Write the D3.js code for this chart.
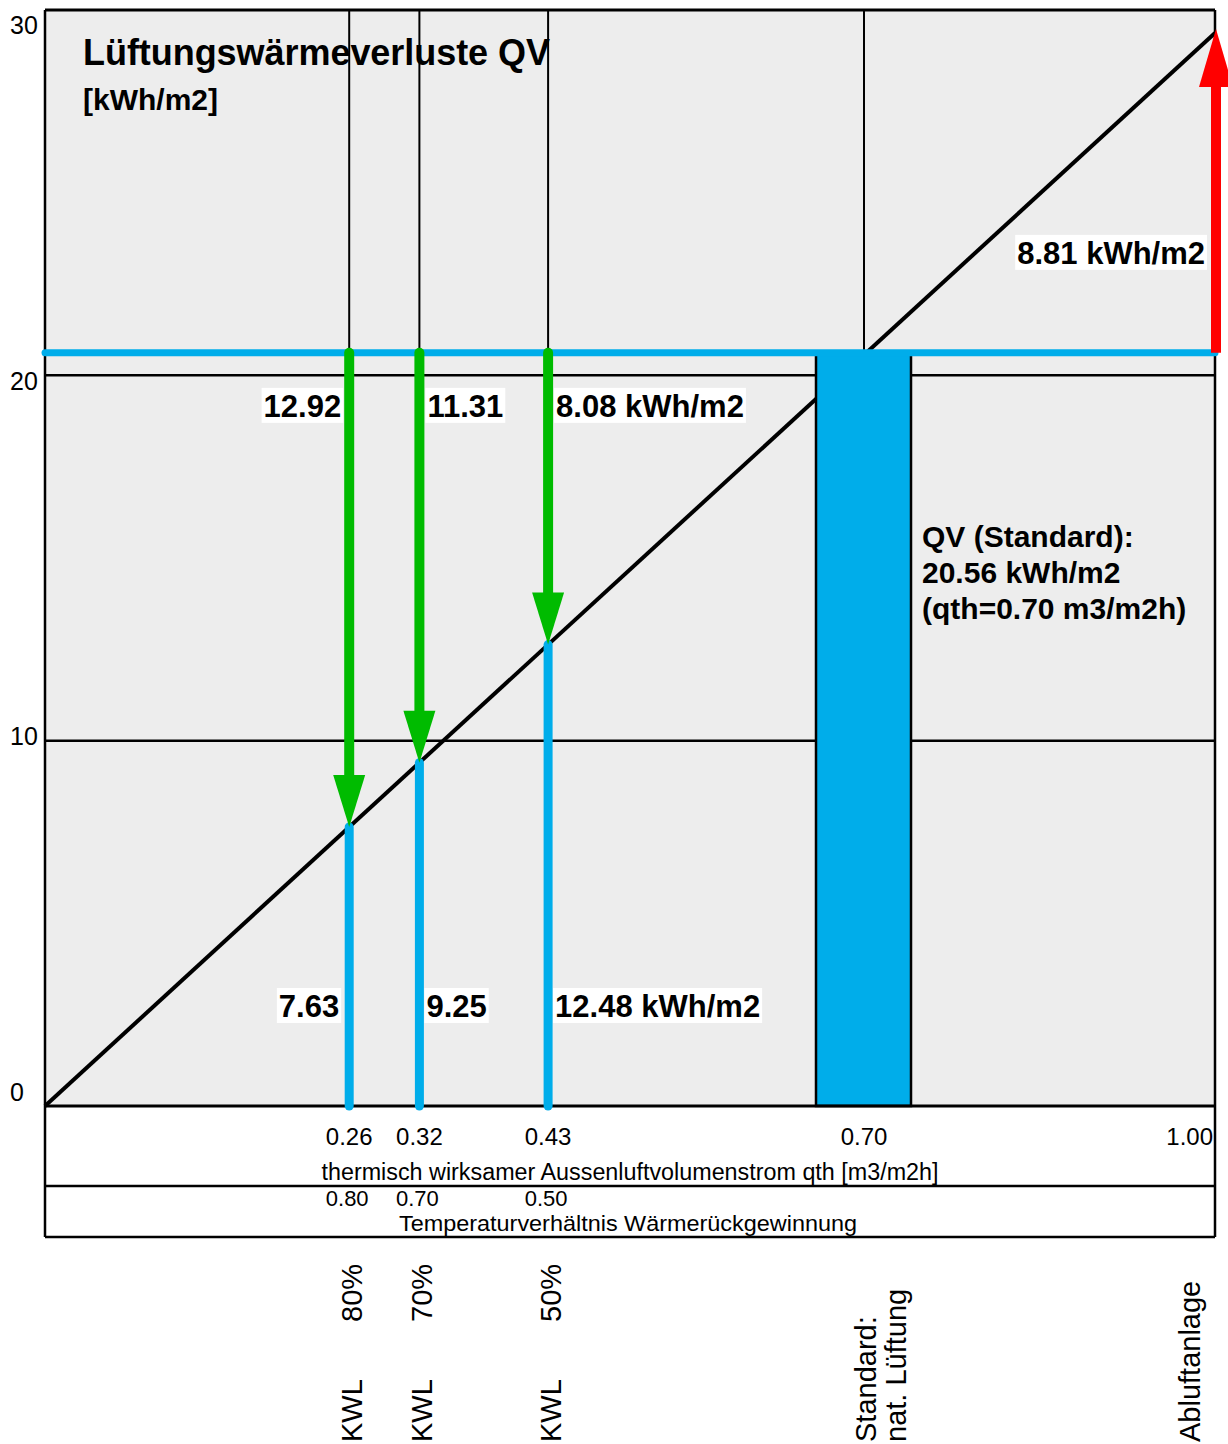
<!DOCTYPE html>
<html>
<head>
<meta charset="utf-8">
<script src="https://cdn.jsdelivr.net/npm/d3@7"></script>
<style>
  html, body { margin: 0; padding: 0; background: #ffffff; }
  svg { display: block; }
  text { font-family: "Liberation Sans", Arial, Helvetica, sans-serif; }
</style>
</head>
<body>
<svg id="chart" width="1228" height="1444"></svg>
<script>
// ---------------- data ----------------
const yTickValues = [0, 10, 20, 30];
const yTickLabels = ["0", "10", "20", "30"];
const qthTickValues = [0.26, 0.32, 0.43, 0.70, 1.00];
const qthTickLabels = ["0.26", "0.32", "0.43", "0.70", "1.00"];
const wrgTickValues = [0.26, 0.32, 0.43];
const wrgTickLabels = ["0.80", "0.70", "0.50"];
const kwlQth = [0.26, 0.32, 0.43];
const kwlSavingLabels = ["12.92", "11.31", "8.08 kWh/m2"];
const kwlQvLabels = ["7.63", "9.25", "12.48 kWh/m2"];
const kwlNames = ["KWL", "KWL", "KWL"];
const kwlPercent = ["80%", "70%", "50%"];
const qthStandard = 0.70;
const qvStandard = 20.56;
const qthAbluft = 1.00;
const abluftExtra = 8.81;
const qvAbluft = 29.37;
const standardLabelLines = ["QV (Standard):", "20.56 kWh/m2", "(qth=0.70 m3/m2h)"];
const standardCatLines = ["Standard:", "nat. Lüftung"];
const abluftCat = "Abluftanlage";
const titleText = "Lüftungswärmeverluste QV";
const unitText = "[kWh/m2]";
const xTitle = "thermisch wirksamer Aussenluftvolumenstrom qth [m3/m2h]";
const x2Title = "Temperaturverhältnis Wärmerückgewinnung";

// ---------------- setup ----------------
const BLUE = "#00adea", GREEN = "#00bb00", RED = "#ff0000", BG = "#ededed";
const svg = d3.select("#chart");
const L = 45, R = 1215, T = 10, B = 1106;
const x = d3.scaleLinear().domain([0, 1]).range([L, R]);
const y = d3.scaleLinear().domain([0, 30]).range([B, T]);
const yLab = d3.scaleLinear().domain([0, 30]).range([1101, 34]);
const diag = q => q * (qvAbluft / qthAbluft);

// plot background
svg.append("rect").attr("x", L).attr("y", T).attr("width", R - L).attr("height", B - T).attr("fill", BG);

// title
svg.append("text").attr("x", 83).attr("y", 65).attr("font-size", 36).attr("font-weight", "bold")
  .attr("textLength", 467).attr("lengthAdjust", "spacing").text(titleText);
svg.append("text").attr("x", 83).attr("y", 110).attr("font-size", 30).attr("font-weight", "bold").text(unitText);

// horizontal grid lines (10, 20)
svg.append("g").selectAll("line").data(yTickValues.filter(v => v > 0 && v < 30)).join("line")
  .attr("x1", L).attr("x2", R).attr("y1", d => y(d)).attr("y2", d => y(d))
  .attr("stroke", "#000").attr("stroke-width", 2.5);

// thin vertical lines above blue line
svg.append("g").selectAll("line").data(kwlQth.concat([qthStandard])).join("line")
  .attr("x1", d => x(d)).attr("x2", d => x(d)).attr("y1", T).attr("y2", y(qvStandard))
  .attr("stroke", "#000").attr("stroke-width", 2);

// diagonal
svg.append("line").attr("x1", x(0)).attr("y1", y(0)).attr("x2", x(qthAbluft)).attr("y2", y(qvAbluft))
  .attr("stroke", "#000").attr("stroke-width", 4);

// standard bar
svg.append("rect").attr("x", x(qthStandard) - 48).attr("y", y(qvStandard) - 1)
  .attr("width", 95).attr("height", y(0) - y(qvStandard) + 1)
  .attr("fill", BLUE).attr("stroke", "#000").attr("stroke-width", 2.5);

// frame lines
const frame = svg.append("g").attr("stroke", "#000").attr("fill", "none");
frame.append("line").attr("x1", L).attr("x2", R).attr("y1", T).attr("y2", T).attr("stroke-width", 3);
frame.append("line").attr("x1", L).attr("x2", L).attr("y1", T).attr("y2", 1237).attr("stroke-width", 2.5);
frame.append("line").attr("x1", R).attr("x2", R).attr("y1", T).attr("y2", 1237).attr("stroke-width", 2.5);
frame.append("line").attr("x1", L).attr("x2", R).attr("y1", B).attr("y2", B).attr("stroke-width", 3);
frame.append("line").attr("x1", L).attr("x2", R).attr("y1", 1186).attr("y2", 1186).attr("stroke-width", 2.5);
frame.append("line").attr("x1", L).attr("x2", R).attr("y1", 1237).attr("y2", 1237).attr("stroke-width", 2.5);

// blue horizontal line at standard value
svg.append("line").attr("x1", x(0)).attr("x2", x(qthAbluft)).attr("y1", y(qvStandard) - 2).attr("y2", y(qvStandard) - 2)
  .attr("stroke", BLUE).attr("stroke-width", 7).attr("stroke-linecap", "round");

// blue vertical lines (KWL results)
svg.append("g").selectAll("line").data(kwlQth).join("line")
  .attr("x1", d => x(d)).attr("x2", d => x(d)).attr("y1", d => y(diag(d))).attr("y2", y(0))
  .attr("stroke", BLUE).attr("stroke-width", 9).attr("stroke-linecap", "round");

// green arrows
const headLen = 52, headHalf = 16;
const ga = svg.append("g");
ga.selectAll("line").data(kwlQth).join("line")
  .attr("x1", d => x(d)).attr("x2", d => x(d))
  .attr("y1", y(qvStandard) - 2).attr("y2", d => y(diag(d)) - headLen + 2)
  .attr("stroke", GREEN).attr("stroke-width", 10).attr("stroke-linecap", "round");
ga.selectAll("path").data(kwlQth).join("path")
  .attr("d", d => {
    const cx = x(d), ty = y(diag(d));
    return `M${cx - headHalf},${ty - headLen}L${cx + headHalf},${ty - headLen}L${cx},${ty}Z`;
  })
  .attr("fill", GREEN);

// red arrow
const rx = x(qthAbluft) + 1, rTip = y(qvAbluft) - 4, rHead = 58;
svg.append("line").attr("x1", rx).attr("x2", rx).attr("y1", y(qvStandard) - 2).attr("y2", rTip + rHead - 2)
  .attr("stroke", RED).attr("stroke-width", 10);
svg.append("path").attr("d", `M${rx - 17},${rTip + rHead}L${rx + 17},${rTip + rHead}L${rx},${rTip}Z`).attr("fill", RED);

// labels with white boxes
function boxedLabel(tx, ty, txt, anchor) {
  const g = svg.append("g");
  const rect = g.append("rect").attr("fill", "#fff");
  const t = g.append("text").attr("x", tx).attr("y", ty).attr("font-size", 31).attr("font-weight", "bold")
    .attr("text-anchor", anchor).text(txt);
  const bb = t.node().getBBox();
  rect.attr("x", bb.x - 2).attr("y", ty - 29).attr("width", bb.width + 4).attr("height", 35);
}
const topLabelY = y(qvStandard) + 62;
const botLabelY = y(0) - 89;
kwlQth.forEach((q, i) => {
  const left = i === 0;
  boxedLabel(left ? x(q) - 8 : x(q) + 8, topLabelY, kwlSavingLabels[i], left ? "end" : "start");
  boxedLabel(left ? x(q) - 10 : x(q) + 7, botLabelY, kwlQvLabels[i], left ? "end" : "start");
});
boxedLabel(x(qthAbluft) - 10, y(qvStandard) - 91, abluftExtra.toFixed(2) + " kWh/m2", "end");

// QV standard text
svg.append("g").selectAll("text").data(standardLabelLines).join("text")
  .attr("x", x(qthStandard) + 58).attr("y", (d, i) => 547 + i * 36)
  .attr("font-size", 30).attr("font-weight", "bold").text(d => d);

// y tick labels
svg.append("g").selectAll("text").data(yTickValues).join("text")
  .attr("x", 10).attr("y", d => yLab(d)).attr("font-size", 25)
  .text((d, i) => yTickLabels[i]);

// x tick labels
svg.append("g").selectAll("text").data(qthTickValues).join("text")
  .attr("x", d => d >= 1 ? x(d) - 2 : x(d)).attr("y", 1145).attr("font-size", 24)
  .attr("text-anchor", d => d >= 1 ? "end" : "middle")
  .text((d, i) => qthTickLabels[i]);
svg.append("text").attr("x", x(0.5)).attr("y", 1180).attr("font-size", 23).attr("text-anchor", "middle")
  .attr("textLength", 617).attr("lengthAdjust", "spacingAndGlyphs").text(xTitle);

svg.append("g").selectAll("text").data(wrgTickValues).join("text")
  .attr("x", d => x(d) - 2).attr("y", 1206).attr("font-size", 22).attr("text-anchor", "middle")
  .text((d, i) => wrgTickLabels[i]);
svg.append("text").attr("x", x(0.5) - 2).attr("y", 1231).attr("font-size", 22).attr("text-anchor", "middle")
  .attr("textLength", 458).attr("lengthAdjust", "spacingAndGlyphs").text(x2Title);

// rotated category labels
const rot = svg.append("g").attr("font-size", 29);
kwlQth.forEach((q, i) => {
  rot.append("text").attr("transform", `translate(${x(q) + 13},1442) rotate(-90)`).text(kwlNames[i]);
  rot.append("text").attr("transform", `translate(${x(q) + 13},1322) rotate(-90)`).text(kwlPercent[i]);
});
standardCatLines.forEach((s, i) => {
  rot.append("text").attr("transform", `translate(${x(qthStandard) + 12 + i * 30},1442) rotate(-90)`).text(s);
});
rot.append("text").attr("transform", `translate(${x(qthAbluft) - 15},1442) rotate(-90)`).text(abluftCat);
</script>
</body>
</html>
